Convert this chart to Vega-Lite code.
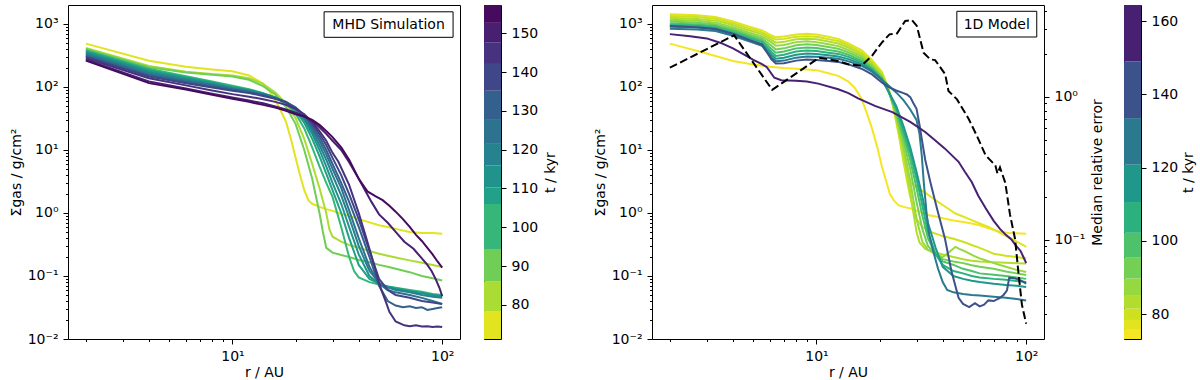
{
"$schema": "https://vega.github.io/schema/vega-lite/v6.json",
"padding": {"left": 8, "top": 3, "right": 0, "bottom": 0},
"config": {
 "font": "DejaVu Sans",
 "view": {"stroke": "black", "strokeWidth": 1},
 "axis": {"domain": false, "grid": false, "tickColor": "black", "tickWidth": 1, "labelColor": "black", "titleColor": "black", "labelFontSize": 14, "titleFontSize": 14, "titleFontWeight": "normal", "labelPadding": 5, "labelFlush": false, "labelOverlap": false, "labelBound": false}
},
"datasets": {
 "mhd": [
{"t":75,"r":2,"s":487},{"t":75,"r":4,"s":260},{"t":75,"r":6,"s":210},{"t":75,"r":8,"s":190},{"t":75,"r":10,"s":177},{"t":75,"r":12,"s":152},{"t":75,"r":14,"s":113},{"t":75,"r":15,"s":85},{"t":75,"r":16,"s":62},{"t":75,"r":17,"s":42},{"t":75,"r":18,"s":28},{"t":75,"r":19,"s":15},{"t":75,"r":20,"s":7.5},{"t":75,"r":21,"s":4},{"t":75,"r":22,"s":2.3},{"t":75,"r":23,"s":1.6},{"t":75,"r":24,"s":1.4},{"t":75,"r":26,"s":1.25},{"t":75,"r":28,"s":1.15},{"t":75,"r":30,"s":1.08},{"t":75,"r":33,"s":0.97},{"t":75,"r":36,"s":0.9},{"t":75,"r":40,"s":0.8},{"t":75,"r":45,"s":0.71},{"t":75,"r":50,"s":0.64},{"t":75,"r":55,"s":0.6},{"t":75,"r":60,"s":0.56},{"t":75,"r":70,"s":0.5},{"t":75,"r":80,"s":0.48},{"t":75,"r":90,"s":0.48},{"t":75,"r":100,"s":0.47},
{"t":82,"r":2,"s":416},{"t":82,"r":4,"s":215},{"t":82,"r":6,"s":175},{"t":82,"r":8,"s":160},{"t":82,"r":10,"s":152},{"t":82,"r":12,"s":138},{"t":82,"r":14,"s":112},{"t":82,"r":16,"s":82},{"t":82,"r":18,"s":55},{"t":82,"r":20,"s":32},{"t":82,"r":22,"s":15},{"t":82,"r":24,"s":6},{"t":82,"r":26,"s":2.5},{"t":82,"r":28,"s":1.0},{"t":82,"r":29,"s":0.55},{"t":82,"r":30,"s":0.42},{"t":82,"r":33,"s":0.35},{"t":82,"r":36,"s":0.31},{"t":82,"r":40,"s":0.28},{"t":82,"r":45,"s":0.25},{"t":82,"r":50,"s":0.226},{"t":82,"r":55,"s":0.21},{"t":82,"r":60,"s":0.197},{"t":82,"r":70,"s":0.177},{"t":82,"r":80,"s":0.162},{"t":82,"r":90,"s":0.15},{"t":82,"r":100,"s":0.139},
{"t":90,"r":2,"s":400},{"t":90,"r":4,"s":205},{"t":90,"r":6,"s":170},{"t":90,"r":8,"s":157},{"t":90,"r":10,"s":147},{"t":90,"r":12,"s":130},{"t":90,"r":14,"s":103},{"t":90,"r":16,"s":76},{"t":90,"r":18,"s":48},{"t":90,"r":20,"s":26},{"t":90,"r":22,"s":10},{"t":90,"r":24,"s":3.5},{"t":90,"r":26,"s":1.0},{"t":90,"r":27,"s":0.5},{"t":90,"r":28,"s":0.28},{"t":90,"r":30,"s":0.235},{"t":90,"r":33,"s":0.215},{"t":90,"r":36,"s":0.2},{"t":90,"r":40,"s":0.18},{"t":90,"r":45,"s":0.165},{"t":90,"r":50,"s":0.15},{"t":90,"r":55,"s":0.14},{"t":90,"r":60,"s":0.13},{"t":90,"r":70,"s":0.115},{"t":90,"r":80,"s":0.1},{"t":90,"r":90,"s":0.092},{"t":90,"r":100,"s":0.085},
{"t":100,"r":2,"s":385},{"t":100,"r":4,"s":195},{"t":100,"r":6,"s":148},{"t":100,"r":8,"s":122},{"t":100,"r":10,"s":105},{"t":100,"r":12,"s":92},{"t":100,"r":14,"s":80},{"t":100,"r":16,"s":68},{"t":100,"r":18,"s":55},{"t":100,"r":20,"s":38},{"t":100,"r":22,"s":22},{"t":100,"r":24,"s":11},{"t":100,"r":26,"s":5.5},{"t":100,"r":28,"s":3},{"t":100,"r":30,"s":1.8},{"t":100,"r":33,"s":0.6},{"t":100,"r":36,"s":0.2},{"t":100,"r":38,"s":0.12},{"t":100,"r":40,"s":0.095},{"t":100,"r":45,"s":0.08},{"t":100,"r":50,"s":0.073},{"t":100,"r":55,"s":0.068},{"t":100,"r":60,"s":0.065},{"t":100,"r":70,"s":0.06},{"t":100,"r":80,"s":0.056},{"t":100,"r":90,"s":0.052},{"t":100,"r":100,"s":0.05},
{"t":108,"r":2,"s":370},{"t":108,"r":4,"s":185},{"t":108,"r":6,"s":142},{"t":108,"r":8,"s":118},{"t":108,"r":10,"s":100},{"t":108,"r":12,"s":90},{"t":108,"r":14,"s":79},{"t":108,"r":16,"s":68},{"t":108,"r":18,"s":56},{"t":108,"r":20,"s":42},{"t":108,"r":22,"s":27},{"t":108,"r":24,"s":15},{"t":108,"r":26,"s":8},{"t":108,"r":28,"s":4.2},{"t":108,"r":30,"s":2.3},{"t":108,"r":33,"s":1.0},{"t":108,"r":36,"s":0.4},{"t":108,"r":40,"s":0.15},{"t":108,"r":45,"s":0.09},{"t":108,"r":50,"s":0.075},{"t":108,"r":55,"s":0.068},{"t":108,"r":60,"s":0.064},{"t":108,"r":70,"s":0.058},{"t":108,"r":80,"s":0.054},{"t":108,"r":90,"s":0.05},{"t":108,"r":100,"s":0.048},
{"t":113,"r":2,"s":355},{"t":113,"r":4,"s":176},{"t":113,"r":6,"s":136},{"t":113,"r":8,"s":114},{"t":113,"r":10,"s":97},{"t":113,"r":12,"s":88},{"t":113,"r":14,"s":78},{"t":113,"r":16,"s":68},{"t":113,"r":18,"s":57},{"t":113,"r":20,"s":44},{"t":113,"r":22,"s":30},{"t":113,"r":24,"s":18},{"t":113,"r":26,"s":10},{"t":113,"r":28,"s":5.5},{"t":113,"r":30,"s":3},{"t":113,"r":33,"s":1.4},{"t":113,"r":36,"s":0.6},{"t":113,"r":40,"s":0.22},{"t":113,"r":45,"s":0.1},{"t":113,"r":50,"s":0.075},{"t":113,"r":55,"s":0.066},{"t":113,"r":60,"s":0.062},{"t":113,"r":70,"s":0.057},{"t":113,"r":80,"s":0.053},{"t":113,"r":90,"s":0.05},{"t":113,"r":100,"s":0.047},
{"t":119,"r":2,"s":340},{"t":119,"r":4,"s":168},{"t":119,"r":6,"s":130},{"t":119,"r":8,"s":110},{"t":119,"r":10,"s":94},{"t":119,"r":12,"s":86},{"t":119,"r":14,"s":77},{"t":119,"r":16,"s":67},{"t":119,"r":18,"s":57},{"t":119,"r":20,"s":45},{"t":119,"r":22,"s":32},{"t":119,"r":24,"s":20},{"t":119,"r":26,"s":12},{"t":119,"r":28,"s":7},{"t":119,"r":30,"s":4},{"t":119,"r":33,"s":1.9},{"t":119,"r":36,"s":0.85},{"t":119,"r":40,"s":0.3},{"t":119,"r":45,"s":0.12},{"t":119,"r":50,"s":0.078},{"t":119,"r":55,"s":0.066},{"t":119,"r":60,"s":0.06},{"t":119,"r":70,"s":0.055},{"t":119,"r":80,"s":0.05},{"t":119,"r":90,"s":0.047},{"t":119,"r":100,"s":0.045},
{"t":125,"r":2,"s":325},{"t":125,"r":4,"s":160},{"t":125,"r":6,"s":125},{"t":125,"r":8,"s":106},{"t":125,"r":10,"s":92},{"t":125,"r":12,"s":84},{"t":125,"r":14,"s":76},{"t":125,"r":16,"s":67},{"t":125,"r":18,"s":58},{"t":125,"r":20,"s":46},{"t":125,"r":22,"s":34},{"t":125,"r":24,"s":22},{"t":125,"r":26,"s":14},{"t":125,"r":28,"s":8.5},{"t":125,"r":30,"s":5},{"t":125,"r":33,"s":2.5},{"t":125,"r":36,"s":1.1},{"t":125,"r":40,"s":0.4},{"t":125,"r":45,"s":0.14},{"t":125,"r":50,"s":0.075},{"t":125,"r":55,"s":0.06},{"t":125,"r":60,"s":0.055},{"t":125,"r":70,"s":0.05},{"t":125,"r":80,"s":0.045},{"t":125,"r":90,"s":0.04},{"t":125,"r":100,"s":0.036},
{"t":131,"r":2,"s":310},{"t":131,"r":4,"s":153},{"t":131,"r":6,"s":120},{"t":131,"r":8,"s":102},{"t":131,"r":10,"s":90},{"t":131,"r":12,"s":82},{"t":131,"r":14,"s":74},{"t":131,"r":16,"s":66},{"t":131,"r":18,"s":58},{"t":131,"r":20,"s":47},{"t":131,"r":22,"s":35},{"t":131,"r":24,"s":24},{"t":131,"r":26,"s":16},{"t":131,"r":28,"s":10},{"t":131,"r":30,"s":6},{"t":131,"r":33,"s":3},{"t":131,"r":36,"s":1.5},{"t":131,"r":40,"s":0.6},{"t":131,"r":45,"s":0.2},{"t":131,"r":50,"s":0.07},{"t":131,"r":55,"s":0.04},{"t":131,"r":60,"s":0.034},{"t":131,"r":65,"s":0.032},{"t":131,"r":70,"s":0.033},{"t":131,"r":75,"s":0.031},{"t":131,"r":80,"s":0.032},{"t":131,"r":85,"s":0.029},{"t":131,"r":90,"s":0.03},{"t":131,"r":95,"s":0.031},{"t":131,"r":100,"s":0.032},
{"t":139,"r":2,"s":300},{"t":139,"r":4,"s":147},{"t":139,"r":6,"s":115},{"t":139,"r":8,"s":98},{"t":139,"r":10,"s":87},{"t":139,"r":12,"s":80},{"t":139,"r":14,"s":72},{"t":139,"r":16,"s":65},{"t":139,"r":18,"s":57},{"t":139,"r":20,"s":47},{"t":139,"r":22,"s":36},{"t":139,"r":24,"s":26},{"t":139,"r":26,"s":18},{"t":139,"r":28,"s":12},{"t":139,"r":30,"s":7.5},{"t":139,"r":33,"s":4},{"t":139,"r":36,"s":2},{"t":139,"r":40,"s":0.8},{"t":139,"r":45,"s":0.25},{"t":139,"r":50,"s":0.09},{"t":139,"r":55,"s":0.06},{"t":139,"r":60,"s":0.05},{"t":139,"r":70,"s":0.045},{"t":139,"r":80,"s":0.04},{"t":139,"r":90,"s":0.038},{"t":139,"r":100,"s":0.036},
{"t":145,"r":2,"s":285},{"t":145,"r":4,"s":138},{"t":145,"r":6,"s":106},{"t":145,"r":8,"s":88},{"t":145,"r":10,"s":77},{"t":145,"r":12,"s":70},{"t":145,"r":14,"s":64},{"t":145,"r":16,"s":58},{"t":145,"r":18,"s":52},{"t":145,"r":20,"s":45},{"t":145,"r":22,"s":37},{"t":145,"r":24,"s":28},{"t":145,"r":26,"s":20},{"t":145,"r":28,"s":14},{"t":145,"r":30,"s":9},{"t":145,"r":32,"s":6.5},{"t":145,"r":36,"s":2.8},{"t":145,"r":40,"s":1.0},{"t":145,"r":43,"s":0.45},{"t":145,"r":46,"s":0.21},{"t":145,"r":49,"s":0.1},{"t":145,"r":51,"s":0.063},{"t":145,"r":54,"s":0.038},{"t":145,"r":56,"s":0.027},{"t":145,"r":60,"s":0.019},{"t":145,"r":66,"s":0.0165},{"t":145,"r":70,"s":0.016},{"t":145,"r":75,"s":0.0165},{"t":145,"r":80,"s":0.0158},{"t":145,"r":85,"s":0.016},{"t":145,"r":90,"s":0.0155},{"t":145,"r":95,"s":0.0158},{"t":145,"r":100,"s":0.0155},
{"t":150,"r":2,"s":272},{"t":150,"r":4,"s":122},{"t":150,"r":6,"s":95},{"t":150,"r":8,"s":78},{"t":150,"r":10,"s":68},{"t":150,"r":12,"s":61},{"t":150,"r":14,"s":55},{"t":150,"r":16,"s":49},{"t":150,"r":18,"s":44},{"t":150,"r":20,"s":39},{"t":150,"r":22,"s":34},{"t":150,"r":24,"s":29},{"t":150,"r":26,"s":23},{"t":150,"r":28,"s":18},{"t":150,"r":30,"s":14},{"t":150,"r":33,"s":10},{"t":150,"r":36,"s":6.4},{"t":150,"r":40,"s":3.5},{"t":150,"r":46,"s":1.5},{"t":150,"r":50,"s":0.95},{"t":150,"r":55,"s":0.7},{"t":150,"r":60,"s":0.5},{"t":150,"r":66,"s":0.35},{"t":150,"r":73,"s":0.27},{"t":150,"r":80,"s":0.19},{"t":150,"r":85,"s":0.15},{"t":150,"r":89,"s":0.12},{"t":150,"r":93,"s":0.09},{"t":150,"r":97,"s":0.065},{"t":150,"r":100,"s":0.048},
{"t":155,"r":2,"s":262},{"t":155,"r":4,"s":115},{"t":155,"r":6,"s":91},{"t":155,"r":8,"s":75},{"t":155,"r":10,"s":65},{"t":155,"r":12,"s":58},{"t":155,"r":14,"s":52},{"t":155,"r":16,"s":47},{"t":155,"r":18,"s":42},{"t":155,"r":20,"s":37},{"t":155,"r":22,"s":34},{"t":155,"r":24,"s":30},{"t":155,"r":26,"s":25},{"t":155,"r":28,"s":20},{"t":155,"r":30,"s":16},{"t":155,"r":33,"s":11},{"t":155,"r":36,"s":7},{"t":155,"r":40,"s":3.5},{"t":155,"r":44,"s":2.2},{"t":155,"r":48,"s":1.85},{"t":155,"r":52,"s":1.6},{"t":155,"r":56,"s":1.3},{"t":155,"r":60,"s":1.05},{"t":155,"r":65,"s":0.8},{"t":155,"r":70,"s":0.6},{"t":155,"r":75,"s":0.45},{"t":155,"r":80,"s":0.36},{"t":155,"r":85,"s":0.28},{"t":155,"r":90,"s":0.22},{"t":155,"r":95,"s":0.17},{"t":155,"r":100,"s":0.136}
 ],
 "model": [
{"t":74.5,"r":2,"s":487},{"t":74.5,"r":3,"s":340},{"t":74.5,"r":4,"s":258},{"t":74.5,"r":5,"s":228},{"t":74.5,"r":6,"s":210},{"t":74.5,"r":7,"s":200},{"t":74.5,"r":8,"s":195},{"t":74.5,"r":9,"s":190},{"t":74.5,"r":10,"s":185},{"t":74.5,"r":11.4,"s":165},{"t":74.5,"r":12.7,"s":150},{"t":74.5,"r":14.2,"s":122},{"t":74.5,"r":15.3,"s":95},{"t":74.5,"r":16.4,"s":65},{"t":74.5,"r":17.4,"s":38},{"t":74.5,"r":18.4,"s":22},{"t":74.5,"r":19.5,"s":11},{"t":74.5,"r":20.5,"s":5.5},{"t":74.5,"r":21.5,"s":3.2},{"t":74.5,"r":22.4,"s":2.0},{"t":74.5,"r":23.5,"s":1.55},{"t":74.5,"r":24.6,"s":1.33},{"t":74.5,"r":26,"s":1.25},{"t":74.5,"r":28.5,"s":1.17},{"t":74.5,"r":31,"s":1.05},{"t":74.5,"r":34,"s":0.93},{"t":74.5,"r":37,"s":0.88},{"t":74.5,"r":41,"s":0.81},{"t":74.5,"r":45,"s":0.76},{"t":74.5,"r":50,"s":0.72},{"t":74.5,"r":55,"s":0.68},{"t":74.5,"r":60,"s":0.64},{"t":74.5,"r":65,"s":0.58},{"t":74.5,"r":70,"s":0.54},{"t":74.5,"r":76,"s":0.5},{"t":74.5,"r":83,"s":0.48},{"t":74.5,"r":90,"s":0.475},{"t":74.5,"r":100,"s":0.47},
{"t":77,"r":2,"s":1430},{"t":77,"r":2.7,"s":1370},{"t":77,"r":3.3,"s":1290},{"t":77,"r":4,"s":1100},{"t":77,"r":4.7,"s":920},{"t":77,"r":5.5,"s":790},{"t":77,"r":6.1,"s":660},{"t":77,"r":6.4,"s":615},{"t":77,"r":7,"s":630},{"t":77,"r":8,"s":680},{"t":77,"r":9,"s":700},{"t":77,"r":10,"s":680},{"t":77,"r":11.4,"s":625},{"t":77,"r":12.7,"s":580},{"t":77,"r":14.2,"s":490},{"t":77,"r":16.4,"s":385},{"t":77,"r":18.4,"s":268},{"t":77,"r":20.5,"s":175},{"t":77,"r":22,"s":100},{"t":77,"r":23,"s":58},{"t":77,"r":24,"s":30},{"t":77,"r":25,"s":15},{"t":77,"r":26,"s":8},{"t":77,"r":27,"s":4.6},{"t":77,"r":28,"s":3.2},{"t":77,"r":29,"s":2.8},{"t":77,"r":30,"s":2.55},{"t":77,"r":33,"s":2.1},{"t":77,"r":36,"s":1.7},{"t":77,"r":38,"s":1.5},{"t":77,"r":42,"s":1.2},{"t":77,"r":46,"s":0.98},{"t":77,"r":50,"s":0.88},{"t":77,"r":55,"s":0.77},{"t":77,"r":60,"s":0.68},{"t":77,"r":66,"s":0.6},{"t":77,"r":72,"s":0.52},{"t":77,"r":79,"s":0.44},{"t":77,"r":85,"s":0.39},{"t":77,"r":90,"s":0.35},{"t":77,"r":95,"s":0.32},{"t":77,"r":100,"s":0.29},
{"t":80,"r":2,"s":1340},{"t":80,"r":2.7,"s":1290},{"t":80,"r":3.3,"s":1210},{"t":80,"r":4,"s":1030},{"t":80,"r":4.7,"s":860},{"t":80,"r":5.5,"s":735},{"t":80,"r":6.1,"s":610},{"t":80,"r":6.4,"s":565},{"t":80,"r":7,"s":580},{"t":80,"r":8,"s":625},{"t":80,"r":9,"s":640},{"t":80,"r":10,"s":625},{"t":80,"r":11.4,"s":575},{"t":80,"r":12.7,"s":535},{"t":80,"r":14.2,"s":455},{"t":80,"r":16.4,"s":355},{"t":80,"r":18.4,"s":250},{"t":80,"r":20.5,"s":165},{"t":80,"r":22,"s":95},{"t":80,"r":23,"s":55},{"t":80,"r":24,"s":28},{"t":80,"r":25,"s":14},{"t":80,"r":26,"s":6.5},{"t":80,"r":27,"s":3.3},{"t":80,"r":28,"s":1.8},{"t":80,"r":29,"s":1.1},{"t":80,"r":30,"s":0.8},{"t":80,"r":32,"s":0.6},{"t":80,"r":35,"s":0.5},{"t":80,"r":40,"s":0.43},{"t":80,"r":45,"s":0.39},{"t":80,"r":50,"s":0.35},{"t":80,"r":55,"s":0.31},{"t":80,"r":60,"s":0.28},{"t":80,"r":65,"s":0.25},{"t":80,"r":70,"s":0.226},{"t":80,"r":80,"s":0.21},{"t":80,"r":90,"s":0.2},{"t":80,"r":100,"s":0.19},
{"t":83.4,"r":2,"s":1250},{"t":83.4,"r":2.7,"s":1200},{"t":83.4,"r":3.3,"s":1130},{"t":83.4,"r":4,"s":960},{"t":83.4,"r":4.7,"s":800},{"t":83.4,"r":5.5,"s":690},{"t":83.4,"r":6.1,"s":560},{"t":83.4,"r":6.4,"s":505},{"t":83.4,"r":7,"s":520},{"t":83.4,"r":8,"s":570},{"t":83.4,"r":9,"s":585},{"t":83.4,"r":10,"s":570},{"t":83.4,"r":11.4,"s":525},{"t":83.4,"r":12.7,"s":490},{"t":83.4,"r":14.2,"s":420},{"t":83.4,"r":16.4,"s":330},{"t":83.4,"r":18.4,"s":235},{"t":83.4,"r":20.5,"s":155},{"t":83.4,"r":22,"s":92},{"t":83.4,"r":23,"s":57},{"t":83.4,"r":24,"s":32},{"t":83.4,"r":25,"s":17},{"t":83.4,"r":26,"s":9},{"t":83.4,"r":27,"s":4.5},{"t":83.4,"r":28,"s":2.2},{"t":83.4,"r":29,"s":1.0},{"t":83.4,"r":30,"s":0.5},{"t":83.4,"r":31,"s":0.34},{"t":83.4,"r":33,"s":0.27},{"t":83.4,"r":36,"s":0.24},{"t":83.4,"r":40,"s":0.22},{"t":83.4,"r":45,"s":0.2},{"t":83.4,"r":50,"s":0.185},{"t":83.4,"r":55,"s":0.175},{"t":83.4,"r":60,"s":0.17},{"t":83.4,"r":70,"s":0.165},{"t":83.4,"r":80,"s":0.162},{"t":83.4,"r":90,"s":0.16},{"t":83.4,"r":100,"s":0.158},
{"t":87.5,"r":2,"s":1170},{"t":87.5,"r":2.7,"s":1120},{"t":87.5,"r":3.3,"s":1050},{"t":87.5,"r":4,"s":890},{"t":87.5,"r":4.7,"s":740},{"t":87.5,"r":5.5,"s":635},{"t":87.5,"r":6.1,"s":510},{"t":87.5,"r":6.4,"s":450},{"t":87.5,"r":7,"s":465},{"t":87.5,"r":8,"s":515},{"t":87.5,"r":9,"s":530},{"t":87.5,"r":10,"s":515},{"t":87.5,"r":11.4,"s":475},{"t":87.5,"r":12.7,"s":445},{"t":87.5,"r":14.2,"s":385},{"t":87.5,"r":16.4,"s":305},{"t":87.5,"r":18.4,"s":220},{"t":87.5,"r":20.5,"s":148},{"t":87.5,"r":22,"s":90},{"t":87.5,"r":23,"s":58},{"t":87.5,"r":24,"s":35},{"t":87.5,"r":25,"s":20},{"t":87.5,"r":26,"s":11},{"t":87.5,"r":27,"s":6},{"t":87.5,"r":28,"s":3.2},{"t":87.5,"r":29,"s":1.6},{"t":87.5,"r":30,"s":0.8},{"t":87.5,"r":32,"s":0.35},{"t":87.5,"r":34,"s":0.26},{"t":87.5,"r":37,"s":0.22},{"t":87.5,"r":40,"s":0.2},{"t":87.5,"r":43,"s":0.24},{"t":87.5,"r":46,"s":0.29},{"t":87.5,"r":48,"s":0.27},{"t":87.5,"r":52,"s":0.24},{"t":87.5,"r":56,"s":0.21},{"t":87.5,"r":60,"s":0.19},{"t":87.5,"r":65,"s":0.175},{"t":87.5,"r":70,"s":0.16},{"t":87.5,"r":80,"s":0.14},{"t":87.5,"r":90,"s":0.125},{"t":87.5,"r":100,"s":0.116},
{"t":92.5,"r":2,"s":1090},{"t":92.5,"r":2.7,"s":1050},{"t":92.5,"r":3.3,"s":985},{"t":92.5,"r":4,"s":830},{"t":92.5,"r":4.7,"s":690},{"t":92.5,"r":5.5,"s":590},{"t":92.5,"r":6.1,"s":450},{"t":92.5,"r":6.4,"s":395},{"t":92.5,"r":7,"s":410},{"t":92.5,"r":8,"s":460},{"t":92.5,"r":9,"s":475},{"t":92.5,"r":10,"s":465},{"t":92.5,"r":11.4,"s":430},{"t":92.5,"r":12.7,"s":405},{"t":92.5,"r":14.2,"s":355},{"t":92.5,"r":16.4,"s":285},{"t":92.5,"r":18.4,"s":208},{"t":92.5,"r":20.5,"s":142},{"t":92.5,"r":22,"s":88},{"t":92.5,"r":24,"s":38},{"t":92.5,"r":26,"s":14},{"t":92.5,"r":28,"s":5},{"t":92.5,"r":30,"s":1.5},{"t":92.5,"r":32,"s":0.55},{"t":92.5,"r":34,"s":0.3},{"t":92.5,"r":37,"s":0.22},{"t":92.5,"r":40,"s":0.185},{"t":92.5,"r":45,"s":0.17},{"t":92.5,"r":50,"s":0.16},{"t":92.5,"r":55,"s":0.148},{"t":92.5,"r":60,"s":0.14},{"t":92.5,"r":70,"s":0.13},{"t":92.5,"r":80,"s":0.118},{"t":92.5,"r":90,"s":0.11},{"t":92.5,"r":100,"s":0.104},
{"t":98.8,"r":2,"s":1020},{"t":98.8,"r":2.7,"s":985},{"t":98.8,"r":3.3,"s":925},{"t":98.8,"r":4,"s":780},{"t":98.8,"r":4.7,"s":650},{"t":98.8,"r":5.5,"s":550},{"t":98.8,"r":6.1,"s":400},{"t":98.8,"r":6.4,"s":350},{"t":98.8,"r":7,"s":365},{"t":98.8,"r":8,"s":410},{"t":98.8,"r":9,"s":425},{"t":98.8,"r":10,"s":415},{"t":98.8,"r":11.4,"s":385},{"t":98.8,"r":12.7,"s":365},{"t":98.8,"r":14.2,"s":325},{"t":98.8,"r":16.4,"s":265},{"t":98.8,"r":18.4,"s":198},{"t":98.8,"r":20.5,"s":138},{"t":98.8,"r":22,"s":86},{"t":98.8,"r":24,"s":42},{"t":98.8,"r":26,"s":17},{"t":98.8,"r":28,"s":7},{"t":98.8,"r":30,"s":2.5},{"t":98.8,"r":32,"s":0.9},{"t":98.8,"r":34,"s":0.4},{"t":98.8,"r":37,"s":0.22},{"t":98.8,"r":40,"s":0.17},{"t":98.8,"r":45,"s":0.15},{"t":98.8,"r":50,"s":0.13},{"t":98.8,"r":55,"s":0.12},{"t":98.8,"r":60,"s":0.11},{"t":98.8,"r":70,"s":0.105},{"t":98.8,"r":80,"s":0.1},{"t":98.8,"r":90,"s":0.095},{"t":98.8,"r":100,"s":0.09},
{"t":106.4,"r":2,"s":965},{"t":106.4,"r":2.7,"s":935},{"t":106.4,"r":3.3,"s":880},{"t":106.4,"r":4,"s":735},{"t":106.4,"r":4.7,"s":610},{"t":106.4,"r":5.5,"s":515},{"t":106.4,"r":6.1,"s":360},{"t":106.4,"r":6.4,"s":310},{"t":106.4,"r":7,"s":325},{"t":106.4,"r":8,"s":365},{"t":106.4,"r":9,"s":380},{"t":106.4,"r":10,"s":372},{"t":106.4,"r":11.4,"s":350},{"t":106.4,"r":12.7,"s":335},{"t":106.4,"r":14.2,"s":300},{"t":106.4,"r":16.4,"s":248},{"t":106.4,"r":18.4,"s":190},{"t":106.4,"r":20.5,"s":134},{"t":106.4,"r":22,"s":86},{"t":106.4,"r":24,"s":46},{"t":106.4,"r":26,"s":20},{"t":106.4,"r":28,"s":9},{"t":106.4,"r":30,"s":3.5},{"t":106.4,"r":32,"s":1.3},{"t":106.4,"r":34,"s":0.5},{"t":106.4,"r":37,"s":0.22},{"t":106.4,"r":40,"s":0.15},{"t":106.4,"r":45,"s":0.12},{"t":106.4,"r":50,"s":0.11},{"t":106.4,"r":55,"s":0.1},{"t":106.4,"r":60,"s":0.095},{"t":106.4,"r":70,"s":0.09},{"t":106.4,"r":80,"s":0.087},{"t":106.4,"r":90,"s":0.083},{"t":106.4,"r":100,"s":0.08},
{"t":115.7,"r":2,"s":900},{"t":115.7,"r":2.7,"s":875},{"t":115.7,"r":3.3,"s":825},{"t":115.7,"r":4,"s":690},{"t":115.7,"r":4.7,"s":570},{"t":115.7,"r":5.5,"s":480},{"t":115.7,"r":6.1,"s":325},{"t":115.7,"r":6.4,"s":280},{"t":115.7,"r":7,"s":290},{"t":115.7,"r":8,"s":325},{"t":115.7,"r":9,"s":340},{"t":115.7,"r":10,"s":335},{"t":115.7,"r":11.4,"s":318},{"t":115.7,"r":12.7,"s":305},{"t":115.7,"r":14.2,"s":277},{"t":115.7,"r":16.4,"s":232},{"t":115.7,"r":18.4,"s":182},{"t":115.7,"r":20.5,"s":130},{"t":115.7,"r":22,"s":86},{"t":115.7,"r":24,"s":50},{"t":115.7,"r":26,"s":24},{"t":115.7,"r":28,"s":11},{"t":115.7,"r":30,"s":4.5},{"t":115.7,"r":32,"s":1.8},{"t":115.7,"r":34,"s":0.7},{"t":115.7,"r":37,"s":0.28},{"t":115.7,"r":40,"s":0.14},{"t":115.7,"r":45,"s":0.1},{"t":115.7,"r":50,"s":0.09},{"t":115.7,"r":55,"s":0.084},{"t":115.7,"r":60,"s":0.08},{"t":115.7,"r":70,"s":0.075},{"t":115.7,"r":80,"s":0.072},{"t":115.7,"r":90,"s":0.07},{"t":115.7,"r":100,"s":0.067},
{"t":127.2,"r":2,"s":840},{"t":127.2,"r":2.7,"s":820},{"t":127.2,"r":3.3,"s":775},{"t":127.2,"r":4,"s":650},{"t":127.2,"r":4.7,"s":540},{"t":127.2,"r":5.5,"s":450},{"t":127.2,"r":6.1,"s":295},{"t":127.2,"r":6.4,"s":255},{"t":127.2,"r":7,"s":262},{"t":127.2,"r":8,"s":292},{"t":127.2,"r":9,"s":305},{"t":127.2,"r":10,"s":302},{"t":127.2,"r":11.4,"s":290},{"t":127.2,"r":12.7,"s":280},{"t":127.2,"r":14.2,"s":255},{"t":127.2,"r":16.4,"s":218},{"t":127.2,"r":18.4,"s":175},{"t":127.2,"r":20.5,"s":130},{"t":127.2,"r":22,"s":106},{"t":127.2,"r":24,"s":82},{"t":127.2,"r":26,"s":62},{"t":127.2,"r":28,"s":44},{"t":127.2,"r":30,"s":30},{"t":127.2,"r":31,"s":18},{"t":127.2,"r":31.8,"s":8},{"t":127.2,"r":32.5,"s":3},{"t":127.2,"r":33.5,"s":1.0},{"t":127.2,"r":34.5,"s":0.45},{"t":127.2,"r":36,"s":0.25},{"t":127.2,"r":38,"s":0.13},{"t":127.2,"r":40,"s":0.08},{"t":127.2,"r":42,"s":0.06},{"t":127.2,"r":45,"s":0.055},{"t":127.2,"r":50,"s":0.052},{"t":127.2,"r":55,"s":0.05},{"t":127.2,"r":60,"s":0.049},{"t":127.2,"r":70,"s":0.047},{"t":127.2,"r":80,"s":0.045},{"t":127.2,"r":90,"s":0.043},{"t":127.2,"r":100,"s":0.041},
{"t":141.3,"r":2,"s":930},{"t":141.3,"r":2.7,"s":890},{"t":141.3,"r":3.3,"s":830},{"t":141.3,"r":4,"s":700},{"t":141.3,"r":4.7,"s":570},{"t":141.3,"r":5.5,"s":470},{"t":141.3,"r":6.1,"s":275},{"t":141.3,"r":6.4,"s":235},{"t":141.3,"r":7,"s":238},{"t":141.3,"r":8,"s":262},{"t":141.3,"r":9,"s":272},{"t":141.3,"r":10,"s":268},{"t":141.3,"r":11.4,"s":258},{"t":141.3,"r":12.7,"s":250},{"t":141.3,"r":14.2,"s":228},{"t":141.3,"r":16.4,"s":195},{"t":141.3,"r":18.4,"s":158},{"t":141.3,"r":20.5,"s":118},{"t":141.3,"r":22,"s":100},{"t":141.3,"r":24,"s":88},{"t":141.3,"r":26,"s":80},{"t":141.3,"r":27,"s":76},{"t":141.3,"r":28,"s":69},{"t":141.3,"r":29,"s":55},{"t":141.3,"r":30,"s":45},{"t":141.3,"r":31,"s":25},{"t":141.3,"r":32,"s":13},{"t":141.3,"r":33,"s":7},{"t":141.3,"r":35,"s":3},{"t":141.3,"r":37.5,"s":1.2},{"t":141.3,"r":41,"s":0.39},{"t":141.3,"r":44,"s":0.12},{"t":141.3,"r":47.6,"s":0.045},{"t":141.3,"r":50,"s":0.036},{"t":141.3,"r":53.5,"s":0.032},{"t":141.3,"r":57,"s":0.037},{"t":141.3,"r":60,"s":0.033},{"t":141.3,"r":63,"s":0.035},{"t":141.3,"r":66,"s":0.041},{"t":141.3,"r":70,"s":0.04},{"t":141.3,"r":75,"s":0.045},{"t":141.3,"r":78,"s":0.05},{"t":141.3,"r":81,"s":0.059},{"t":141.3,"r":83,"s":0.094},{"t":141.3,"r":88,"s":0.092},{"t":141.3,"r":92,"s":0.088},{"t":141.3,"r":96,"s":0.082},{"t":141.3,"r":100,"s":0.076},
{"t":156.7,"r":2,"s":690},{"t":156.7,"r":2.5,"s":640},{"t":156.7,"r":3,"s":590},{"t":156.7,"r":3.5,"s":500},{"t":156.7,"r":4,"s":410},{"t":156.7,"r":4.5,"s":330},{"t":156.7,"r":5,"s":270},{"t":156.7,"r":5.5,"s":230},{"t":156.7,"r":5.8,"s":206},{"t":156.7,"r":6.3,"s":140},{"t":156.7,"r":6.8,"s":128},{"t":156.7,"r":8,"s":126},{"t":156.7,"r":9,"s":122},{"t":156.7,"r":10.2,"s":113},{"t":156.7,"r":12.7,"s":92},{"t":156.7,"r":14.2,"s":80},{"t":156.7,"r":15.8,"s":66},{"t":156.7,"r":19,"s":50},{"t":156.7,"r":23,"s":40},{"t":156.7,"r":28,"s":28},{"t":156.7,"r":33,"s":19.3},{"t":156.7,"r":37,"s":14},{"t":156.7,"r":41,"s":10.5},{"t":156.7,"r":47.6,"s":6.5},{"t":156.7,"r":51,"s":4.5},{"t":156.7,"r":55,"s":3.1},{"t":156.7,"r":59,"s":1.9},{"t":156.7,"r":64,"s":1.2},{"t":156.7,"r":70,"s":0.75},{"t":156.7,"r":75,"s":0.56},{"t":156.7,"r":80,"s":0.45},{"t":156.7,"r":85,"s":0.38},{"t":156.7,"r":89,"s":0.31},{"t":156.7,"r":94,"s":0.25},{"t":156.7,"r":97,"s":0.2},{"t":156.7,"r":100,"s":0.16}
 ],
 "err": [
{"r":2,"e":1.6},{"r":4.05,"e":2.7},{"r":6.15,"e":1.12},{"r":10.3,"e":1.88},{"r":12.7,"e":1.78},{"r":14.2,"e":1.69},{"r":16.4,"e":1.65},{"r":18.4,"e":1.94},{"r":20.5,"e":2.4},{"r":22.3,"e":2.74},{"r":24.2,"e":2.78},{"r":26.5,"e":3.4},{"r":28.5,"e":3.45},{"r":30.1,"e":3.14},{"r":32.4,"e":2.04},{"r":34.9,"e":1.83},{"r":36.8,"e":1.81},{"r":41.1,"e":1.44},{"r":42.6,"e":1.1},{"r":46.8,"e":0.96},{"r":53.2,"e":0.7},{"r":58.3,"e":0.53},{"r":64,"e":0.39},{"r":71.3,"e":0.33},{"r":73,"e":0.29},{"r":75,"e":0.32},{"r":79.5,"e":0.25},{"r":83.7,"e":0.15},{"r":88.5,"e":0.101},{"r":91.8,"e":0.059},{"r":95.4,"e":0.035},{"r":100,"e":0.0257}
 ],
 "cb1": [
{"t":75,"lo":71.2,"hi":78.4},{"t":82,"lo":78.4,"hi":86},{"t":90,"lo":86,"hi":94.4},{"t":100,"lo":94.4,"hi":106},{"t":108,"lo":106,"hi":110.3},{"t":113,"lo":110.3,"hi":115.9},{"t":119,"lo":115.9,"hi":121.5},{"t":125,"lo":121.5,"hi":127.9},{"t":131,"lo":127.9,"hi":135.2},{"t":139,"lo":135.2,"hi":142.1},{"t":145,"lo":142.1,"hi":147.7},{"t":150,"lo":147.7,"hi":152.7},{"t":155,"lo":152.7,"hi":157.3}
 ],
 "cb2": [
{"t":74.5,"lo":73.2,"hi":75.7},{"t":77,"lo":75.7,"hi":78.4},{"t":80,"lo":78.4,"hi":81.5},{"t":83.4,"lo":81.5,"hi":85.2},{"t":87.5,"lo":85.2,"hi":89.7},{"t":92.5,"lo":89.7,"hi":95.4},{"t":98.8,"lo":95.4,"hi":102.2},{"t":106.4,"lo":102.2,"hi":110.6},{"t":115.7,"lo":110.6,"hi":120.8},{"t":127.2,"lo":120.8,"hi":133.5},{"t":141.3,"lo":133.5,"hi":149},{"t":156.7,"lo":149,"hi":164.4}
 ],
 "box1": [{"r":27.35,"r2":112.7,"s":1560,"s2":614}],
 "lab1": [{"r":55.5,"s":975,"label":"MHD Simulation"}],
 "box2": [{"r":46.7,"r2":112.3,"s":1589,"s2":621}],
 "lab2": [{"r":72.4,"s":975,"label":"1D Model"}]
},
"spacing": 33,
"resolve": {"scale": {"color": "independent"}},
"hconcat": [
 {
  "spacing": 22,
  "hconcat": [
   {
    "width": 392, "height": 334,
    "layer": [
     {
      "data": {"name": "mhd"},
      "mark": {"type": "line", "strokeWidth": 2, "clip": true},
      "encoding": {
       "x": {"field": "r", "type": "quantitative", "title": "r / AU",
        "scale": {"type": "log", "domain": [1.644, 121.6], "nice": false},
        "axis": {"values": [2,3,4,5,6,7,8,9,10,20,30,40,50,60,70,80,90,100], "labelExpr": "datum.value == 10 ? '10¹' : datum.value == 100 ? '10²' : ''", "tickSize": {"condition": {"test": "datum.value == 10 || datum.value == 100", "value": 5}, "value": 2.5}, "titlePadding": 2}},
       "y": {"field": "s", "type": "quantitative", "title": "Σgas / g/cm²",
        "scale": {"type": "log", "domain": [0.01, 2000], "nice": false},
        "axis": {"values": [0.01,0.02,0.03,0.04,0.05,0.06,0.07,0.08,0.09,0.1,0.2,0.3,0.4,0.5,0.6,0.7,0.8,0.9,1,2,3,4,5,6,7,8,9,10,20,30,40,50,60,70,80,90,100,200,300,400,500,600,700,800,900,1000], "labelExpr": "datum.value == 1000 ? '10³' : datum.value == 100 ? '10²' : datum.value == 10 ? '10¹' : datum.value == 1 ? '10⁰' : datum.value == 0.1 ? '10⁻¹' : datum.value == 0.01 ? '10⁻²' : ''", "tickSize": {"condition": {"test": "datum.value == 1000 || datum.value == 100 || datum.value == 10 || datum.value == 1 || datum.value == 0.1 || datum.value == 0.01", "value": 5}, "value": 2.5}, "titlePadding": 4}},
       "color": {"field": "t", "type": "ordinal", "scale": {"domain": [75,82,90,100,108,113,119,125,131,139,145,150,155], "range": ["#e1e41f","#abdc33","#70ce57","#36b779","#21a187","#20938c","#25828e","#2d728e","#34608d","#3f4788","#46327e","#482071","#460b5e"]}, "legend": null},
       "detail": {"field": "t"}
      }
     },
     {
      "data": {"name": "box1"},
      "mark": {"type": "rect", "fill": "white", "stroke": "black", "strokeWidth": 1},
      "encoding": {
       "x": {"field": "r", "type": "quantitative", "title": "r / AU"},
       "x2": {"field": "r2"},
       "y": {"field": "s", "type": "quantitative", "title": "Σgas / g/cm²"},
       "y2": {"field": "s2"}
      }
     },
     {
      "data": {"name": "lab1"},
      "mark": {"type": "text", "fontSize": 14, "align": "center", "baseline": "middle", "color": "black"},
      "encoding": {
       "x": {"field": "r", "type": "quantitative", "title": "r / AU"},
       "y": {"field": "s", "type": "quantitative", "title": "Σgas / g/cm²"},
       "text": {"field": "label"}
      }
     }
    ]
   },
   {
    "width": 17, "height": 334,
    "data": {"name": "cb1"},
    "mark": {"type": "rect"},
    "encoding": {
     "x": {"value": 0}, "x2": {"value": "width"},
     "y": {"field": "lo", "type": "quantitative", "title": "t / kyr",
      "scale": {"domain": [71.2, 157.3], "nice": false, "zero": false},
      "axis": {"orient": "right", "values": [80,90,100,110,120,130,140,150], "tickSize": 5, "titleAngle": 270, "titleBaseline": "top", "titlePadding": 6}},
     "y2": {"field": "hi"},
     "color": {"field": "t", "type": "ordinal", "scale": {"domain": [75,82,90,100,108,113,119,125,131,139,145,150,155], "range": ["#e1e41f","#abdc33","#70ce57","#36b779","#21a187","#20938c","#25828e","#2d728e","#34608d","#3f4788","#46327e","#482071","#460b5e"]}, "legend": null}
    }
   }
  ]
 },
 {
  "spacing": 17,
  "hconcat": [
   {
    "width": 392, "height": 334,
    "resolve": {"scale": {"y": "independent"}},
    "layer": [
     {
      "layer": [
       {
        "data": {"name": "model"},
        "mark": {"type": "line", "strokeWidth": 2, "clip": true},
        "encoding": {
         "x": {"field": "r", "type": "quantitative", "title": "r / AU",
          "scale": {"type": "log", "domain": [1.644, 121.6], "nice": false},
          "axis": {"values": [2,3,4,5,6,7,8,9,10,20,30,40,50,60,70,80,90,100], "labelExpr": "datum.value == 10 ? '10¹' : datum.value == 100 ? '10²' : ''", "tickSize": {"condition": {"test": "datum.value == 10 || datum.value == 100", "value": 5}, "value": 2.5}, "titlePadding": 2}},
         "y": {"field": "s", "type": "quantitative", "title": "Σgas / g/cm²",
          "scale": {"type": "log", "domain": [0.01, 2000], "nice": false},
          "axis": {"values": [0.01,0.02,0.03,0.04,0.05,0.06,0.07,0.08,0.09,0.1,0.2,0.3,0.4,0.5,0.6,0.7,0.8,0.9,1,2,3,4,5,6,7,8,9,10,20,30,40,50,60,70,80,90,100,200,300,400,500,600,700,800,900,1000], "labelExpr": "datum.value == 1000 ? '10³' : datum.value == 100 ? '10²' : datum.value == 10 ? '10¹' : datum.value == 1 ? '10⁰' : datum.value == 0.1 ? '10⁻¹' : datum.value == 0.01 ? '10⁻²' : ''", "tickSize": {"condition": {"test": "datum.value == 1000 || datum.value == 100 || datum.value == 10 || datum.value == 1 || datum.value == 0.1 || datum.value == 0.01", "value": 5}, "value": 2.5}, "titlePadding": 4}},
         "color": {"field": "t", "type": "ordinal", "scale": {"domain": [74.5,77,80,83.4,87.5,92.5,98.8,106.4,115.7,127.2,141.3,156.7], "range": ["#f5e623","#e2e41f","#cde11e","#b3dd2e","#96d83f","#74cf55","#4ec26b","#2cb07e","#1f988b","#2a798e","#3b528b","#482072"]}, "legend": null},
         "detail": {"field": "t"}
        }
       },
       {
        "data": {"name": "box2"},
        "mark": {"type": "rect", "fill": "white", "stroke": "black", "strokeWidth": 1},
        "encoding": {
         "x": {"field": "r", "type": "quantitative", "title": "r / AU"},
         "x2": {"field": "r2"},
         "y": {"field": "s", "type": "quantitative", "title": "Σgas / g/cm²"},
         "y2": {"field": "s2"}
        }
       },
       {
        "data": {"name": "lab2"},
        "mark": {"type": "text", "fontSize": 14, "align": "center", "baseline": "middle", "color": "black"},
        "encoding": {
         "x": {"field": "r", "type": "quantitative", "title": "r / AU"},
         "y": {"field": "s", "type": "quantitative", "title": "Σgas / g/cm²"},
         "text": {"field": "label"}
        }
       }
      ]
     },
     {
      "data": {"name": "err"},
      "mark": {"type": "line", "color": "black", "strokeWidth": 2, "strokeDash": [8, 3.5], "clip": true},
      "encoding": {
       "x": {"field": "r", "type": "quantitative", "title": "r / AU"},
       "y": {"field": "e", "type": "quantitative", "title": "Median relative error",
        "scale": {"type": "log", "domain": [0.0201, 4.4], "nice": false},
        "axis": {"orient": "right", "values": [0.03,0.04,0.05,0.06,0.07,0.08,0.09,0.1,0.2,0.3,0.4,0.5,0.6,0.7,0.8,0.9,1,2,3,4], "labelExpr": "datum.value == 1 ? '10⁰' : datum.value == 0.1 ? '10⁻¹' : ''", "tickSize": {"condition": {"test": "datum.value == 1 || datum.value == 0.1", "value": 5}, "value": 2.5}, "titleAngle": 270, "titleBaseline": "top", "titlePadding": 6}}
      }
     }
    ]
   },
   {
    "width": 17, "height": 334,
    "data": {"name": "cb2"},
    "mark": {"type": "rect"},
    "encoding": {
     "x": {"value": 0}, "x2": {"value": "width"},
     "y": {"field": "lo", "type": "quantitative", "title": "t / kyr",
      "scale": {"domain": [73.2, 164.4], "nice": false, "zero": false},
      "axis": {"orient": "right", "values": [80,100,120,140,160], "tickSize": 5, "titleAngle": 270, "titleBaseline": "top", "titlePadding": 4}},
     "y2": {"field": "hi"},
     "color": {"field": "t", "type": "ordinal", "scale": {"domain": [74.5,77,80,83.4,87.5,92.5,98.8,106.4,115.7,127.2,141.3,156.7], "range": ["#f5e623","#e2e41f","#cde11e","#b3dd2e","#96d83f","#74cf55","#4ec26b","#2cb07e","#1f988b","#2a798e","#3b528b","#482072"]}, "legend": null}
    }
   }
  ]
 }
]
}
